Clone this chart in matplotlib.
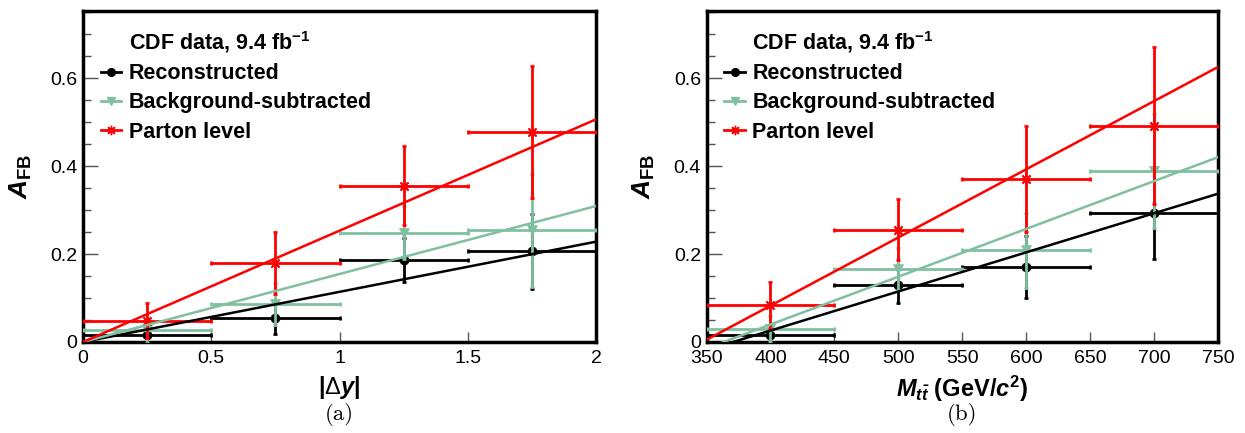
import matplotlib

matplotlib.use("Agg")
import matplotlib.pyplot as plt  # noqa: E402
import numpy as np  # noqa: E402
from matplotlib.lines import Line2D  # noqa: E402
from matplotlib.ticker import FixedLocator, MultipleLocator, NullLocator  # noqa: E402

plt.rcParams.update({
    "font.family": ["Liberation Sans", "DejaVu Sans"],
    "mathtext.fontset": "custom",
    "mathtext.rm": "Liberation Sans:bold",
    "mathtext.it": "Liberation Sans:bold:italic",
    "mathtext.bf": "Liberation Sans:bold",
    "mathtext.sf": "Liberation Sans",
})

BLACK = "#000000"
GREEN = "#80c0a0"
RED = "#ff0000"

# --- panel (a): A_FB vs |dy| ---
dy_edges = [0.0, 0.5, 1.0, 1.5, 2.0]
reco_dy = [0.017, 0.055, 0.186, 0.206]
reco_dy_err = [0.020, 0.036, 0.050, 0.085]
bkg_dy = [0.027, 0.086, 0.248, 0.254]
bkg_dy_err = [0.030, 0.048, 0.060, 0.128]
parton_dy = [0.048, 0.180, 0.355, 0.477]
parton_dy_err = [0.040, 0.070, 0.090, 0.150]
fit_dy_x = [0.0, 2.0]
fit_dy_reco = [0.0, 0.228]
fit_dy_bkg = [0.0, 0.309]
fit_dy_parton = [0.0, 0.506]

# --- panel (b): A_FB vs M_tt ---
mtt_edges = [350, 450, 550, 650, 750]
reco_m = [0.017, 0.129, 0.170, 0.293]
reco_m_err = [0.020, 0.040, 0.070, 0.105]
bkg_m = [0.029, 0.166, 0.208, 0.389]
bkg_m_err = [0.030, 0.048, 0.085, 0.130]
parton_m = [0.083, 0.255, 0.370, 0.492]
parton_m_err = [0.054, 0.069, 0.120, 0.178]
fit_m_x = [350, 750]
fit_m_reco = [-0.0185, 0.337]
fit_m_bkg = [-0.0146, 0.420]
fit_m_parton = [0.005, 0.625]

series_style = [
    (BLACK, "o", 6.5, "Reconstructed"),
    (GREEN, "v", 7.5, "Background-subtracted"),
    (RED, (8, 2, 0), 8, "Parton level"),
]


def draw_panel(ax, edges, values, errors, fit_x, fits, xticks, xlabels, xlabel):
    edges = np.asarray(edges, dtype=float)
    centers = (edges[:-1] + edges[1:]) / 2
    half = (edges[1:] - edges[:-1]) / 2
    for i, ((color, marker, ms, _), y, e, fy) in enumerate(
            zip(series_style, values, errors, fits)):
        ax.errorbar(centers, y, xerr=half, yerr=e, fmt="none", ecolor=color,
                    elinewidth=2, capsize=1.2, capthick=2, zorder=2 + i)
        ax.plot(centers, y, linestyle="none", marker=marker, color=color,
                markersize=ms, markeredgewidth=1.0 if i == 2 else 0.5,
                zorder=2.5 + i)
        ax.plot(fit_x, fy, color=color, linewidth=1.8, zorder=6)

    ax.set_xlim(edges[0], edges[-1])
    ax.set_ylim(0, 0.7523)
    ax.xaxis.set_major_locator(FixedLocator(xticks))
    ax.set_xticklabels(xlabels)
    ax.xaxis.set_minor_locator(NullLocator())
    ax.yaxis.set_major_locator(FixedLocator([0, 0.2, 0.4, 0.6]))
    ax.set_yticklabels(["0", "0.2", "0.4", "0.6"])
    ax.yaxis.set_minor_locator(MultipleLocator(0.05))
    ax.tick_params(axis="x", which="major", direction="in", length=7.5,
                   width=1, color="#555555", labelsize=14, pad=6)
    ax.tick_params(axis="y", which="major", direction="in", length=11,
                   width=1, color="#555555", labelsize=14, pad=4)
    ax.tick_params(axis="y", which="minor", direction="in", length=6,
                   width=1, color="#555555")
    for sp in ax.spines.values():
        sp.set_linewidth(2.5)

    ax.set_xlabel(xlabel, fontsize=17, fontweight="bold", labelpad=5)
    ax.set_ylabel(r"$A_{\mathrm{FB}}$", fontsize=19, labelpad=12)

    handles = [Line2D([], [], linestyle="none")]
    labels = [r"CDF data, 9.4 fb$^{-1}$"]
    for color, marker, ms, name in series_style:
        handles.append(Line2D([], [], color=color, marker=marker, markersize=ms * 0.85,
                              linewidth=2))
        labels.append(name)
    leg = ax.legend(handles, labels, loc="upper left", bbox_to_anchor=(0.035, 0.945),
                    frameon=False, borderpad=0, borderaxespad=0,
                    handlelength=0.95, handletextpad=0.35, labelspacing=0.38,
                    prop={"weight": "bold", "size": 15.5})
    return leg


fig = plt.figure(figsize=(12.45, 4.33), dpi=100)
ax_a = fig.add_axes([83 / 1245, 1 - 342 / 433, 513 / 1245, 331 / 433])
ax_b = fig.add_axes([706.5 / 1245, 1 - 342 / 433, 511.5 / 1245, 331 / 433])

draw_panel(ax_a, dy_edges, [reco_dy, bkg_dy, parton_dy],
           [reco_dy_err, bkg_dy_err, parton_dy_err], fit_dy_x,
           [fit_dy_reco, fit_dy_bkg, fit_dy_parton],
           [0, 0.5, 1, 1.5, 2], ["0", "0.5", "1", "1.5", "2"],
           r"$|\mathsf{\Delta}y|$")
draw_panel(ax_b, mtt_edges, [reco_m, bkg_m, parton_m],
           [reco_m_err, bkg_m_err, parton_m_err], fit_m_x,
           [fit_m_reco, fit_m_bkg, fit_m_parton],
           list(range(350, 751, 50)), [str(v) for v in range(350, 751, 50)],
           r"$M_{t\bar{t}}$ (GeV/$c^{2}$)")

fig.text(339.5 / 1245, 1 - 415 / 433, "(a)", family="cmr10", fontsize=16.5,
         ha="center", va="center")
fig.text(962 / 1245, 1 - 415 / 433, "(b)", family="cmr10", fontsize=16.5,
         ha="center", va="center")

fig.savefig("out.png", dpi=100)
